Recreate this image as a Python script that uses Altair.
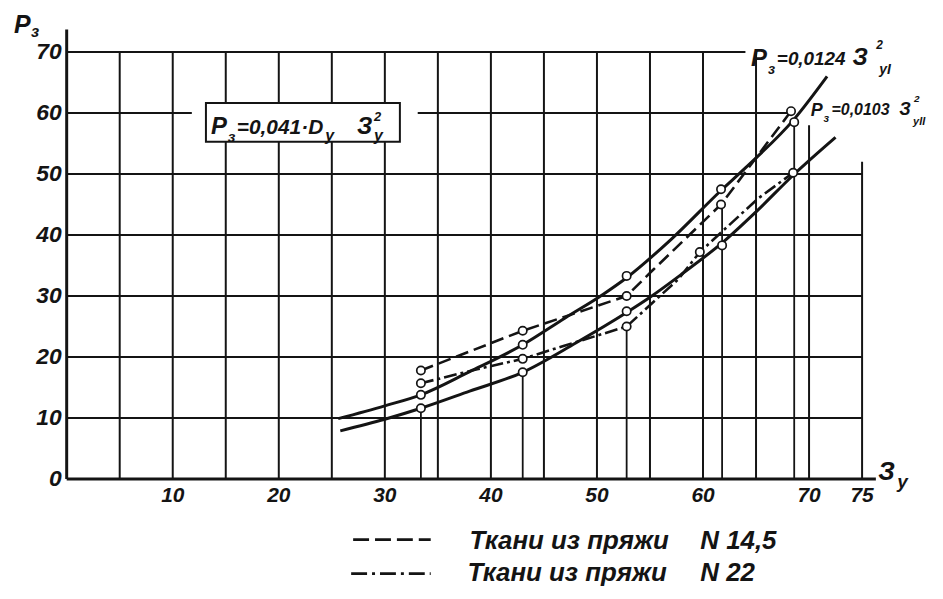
import altair as alt
import pandas as pd

# ---------------- data ----------------
x_grid = [5, 10, 15, 20, 25, 30, 35, 40, 45, 50, 55, 60, 65, 70, 75]
x_grid_top = [70, 70, 70, 70, 70, 70, 70, 70, 70, 70, 70, 70, 70, 58, 52]
y_grid = [10, 20, 30, 40, 50, 60, 60, 70]
y_grid_from = [0, 0, 0, 0, 0, 0, 33.1, 0]
y_grid_to = [75, 75, 75, 75, 75, 11.8, 68, 64]
x_labels = [10, 20, 30, 40, 50, 60, 70, 75]
y_labels = [0, 10, 20, 30, 40, 50, 60, 70]

meas_x = [33.4, 43.0, 52.8, 61.8, 68.6]
meas_top = [11.6, 17.5, 25.0, 45.0, 58.5]

# solid fitted curve I  (P = 0,0124 З²)
curve1_x = [25.6, 30.0, 33.4, 38.0, 43.0, 47.0, 50.6, 52.8, 57.0, 61.7, 64.0, 68.6, 71.7]
curve1_y = [9.9, 12.0, 13.8, 17.6, 22.0, 26.4, 30.3, 33.0, 39.3, 47.3, 51.0, 59.0, 66.0]
# solid fitted curve II (P = 0,0103 З²)
curve2_x = [25.8, 30.0, 33.4, 38.0, 43.0, 48.0, 52.8, 55.0, 58.0, 62.0, 65.0, 68.5, 72.5]
curve2_y = [7.9, 9.8, 11.6, 14.4, 17.5, 22.3, 27.3, 29.8, 33.6, 39.0, 43.8, 49.8, 56.0]
# measured, yarn N 14.5 (dashed)
dash_x = [33.4, 43.0, 52.8, 55.3, 61.7, 68.3]
dash_y = [17.8, 24.3, 30.0, 34.3, 45.0, 60.3]
# measured, yarn N 22 (dash-dot)
dashdot_x = [33.4, 38.7, 43.0, 47.0, 52.8, 57.7, 59.7, 65.2, 68.5]
dashdot_y = [15.7, 18.0, 19.7, 21.9, 25.0, 32.8, 37.2, 46.0, 50.2]
# circles
circ_x = [33.4, 33.4, 33.4, 33.4, 43.0, 43.0, 43.0, 43.0, 52.8, 52.8, 52.8, 52.8,
          61.7, 61.7, 61.8, 59.7, 68.3, 68.6, 68.5]
circ_y = [17.8, 15.7, 13.8, 11.6, 24.3, 22.0, 19.7, 17.5, 33.3, 30.0, 27.5, 25.0,
          47.5, 45.0, 38.3, 37.2, 60.3, 58.5, 50.2]

legend_labels = ["Ткани из пряжи", "Ткани из пряжи"]
legend_nums = ["N 14,5", "N 22"]

# ---------------- styling ----------------
INK = "#141414"
FONT = "Liberation Sans"
WEIGHT = "bold"
OX, OY = 67, 20  # page position of plot origin (8px margin + padding)

xs = alt.Scale(domain=[0, 80], nice=False, zero=False)
ys = alt.Scale(domain=[0, 75], nice=False, zero=False)


def X(f):
    return alt.X(f, type="quantitative", scale=xs, axis=None)


def Y(f):
    return alt.Y(f, type="quantitative", scale=ys, axis=None)


layers = []

# vertical grid
vg = pd.DataFrame({"x": x_grid, "y0": [0] * len(x_grid), "y1": x_grid_top})
layers.append(alt.Chart(vg).mark_rule(color=INK, strokeWidth=2).encode(
    x=X("x"), y=Y("y0"), y2="y1:Q"))
# measurement verticals
mv = pd.DataFrame({"x": meas_x, "y0": [0] * len(meas_x), "y1": meas_top})
layers.append(alt.Chart(mv).mark_rule(color=INK, strokeWidth=1.8).encode(
    x=X("x"), y=Y("y0"), y2="y1:Q"))
# horizontal grid
hg = pd.DataFrame({"y": y_grid, "x0": y_grid_from, "x1": y_grid_to})
layers.append(alt.Chart(hg).mark_rule(color=INK, strokeWidth=2).encode(
    y=Y("y"), x=X("x0"), x2="x1:Q"))
# axes
ax = pd.DataFrame({"x0": [0], "x1": [76.3], "y": [0]})
layers.append(alt.Chart(ax).mark_rule(color=INK, strokeWidth=3).encode(
    y=Y("y"), x=X("x0"), x2="x1:Q"))
ay = pd.DataFrame({"x": [0], "y0": [0], "y1": [73.7]})
layers.append(alt.Chart(ay).mark_rule(color=INK, strokeWidth=3).encode(
    x=X("x"), y=Y("y0"), y2="y1:Q"))

# formula box (white, covers the grid)
layers.append(alt.Chart(pd.DataFrame({"a": [0]})).mark_rect(
    fill="white", stroke=INK, strokeWidth=2).encode(
    x=alt.value(207 - OX), x2=alt.value(402 - OX),
    y=alt.value(102 - OY), y2=alt.value(141 - OY)))

# curves
c1 = pd.DataFrame({"x": curve1_x, "y": curve1_y})
c2 = pd.DataFrame({"x": curve2_x, "y": curve2_y})
layers.append(alt.Chart(c1).mark_line(color=INK, strokeWidth=3, interpolate="monotone").encode(
    x=X("x"), y=Y("y"), order="x:Q"))
layers.append(alt.Chart(c2).mark_line(color=INK, strokeWidth=3, interpolate="monotone").encode(
    x=X("x"), y=Y("y"), order="x:Q"))
d1 = pd.DataFrame({"x": dash_x, "y": dash_y})
d2 = pd.DataFrame({"x": dashdot_x, "y": dashdot_y})
layers.append(alt.Chart(d1).mark_line(color=INK, strokeWidth=2.6, strokeDash=[13, 6]).encode(
    x=X("x"), y=Y("y"), order="x:Q"))
layers.append(alt.Chart(d2).mark_line(color=INK, strokeWidth=2.6, strokeDash=[13, 4, 3, 4]).encode(
    x=X("x"), y=Y("y"), order="x:Q"))

# circles
cc = pd.DataFrame({"x": circ_x, "y": circ_y})
layers.append(alt.Chart(cc).mark_circle(fill="white", stroke=INK, strokeWidth=1.7,
                                        size=70, opacity=1).encode(x=X("x"), y=Y("y")))

# tick labels
xl = pd.DataFrame({"x": x_labels, "t": [str(v) for v in x_labels]})
layers.append(alt.Chart(xl).mark_text(font=FONT, fontStyle="italic", fontWeight=WEIGHT,
                                      fontSize=21, color=INK,
                                      baseline="alphabetic", align="center").encode(
    x=X("x"), y=alt.value(503 - OY), text="t:N"))
yl = pd.DataFrame({"y": y_labels, "t": [str(v) for v in y_labels]})
layers.append(alt.Chart(yl).mark_text(font=FONT, fontStyle="italic", fontWeight=WEIGHT,
                                      fontSize=23, color=INK,
                                      baseline="middle", align="right").encode(
    y=Y("y"), x=alt.value(62 - OX), text="t:N"))


def txt(s, px, py, size, align="left"):
    return alt.Chart(pd.DataFrame({"t": [s]})).mark_text(
        font=FONT, fontStyle="italic", fontWeight=WEIGHT, fontSize=size, color=INK,
        baseline="alphabetic", align=align).encode(
        x=alt.value(px - OX), y=alt.value(py - OY), text="t:N")


# axis titles
layers += [txt("P", 14, 32, 25), txt("з", 31, 36, 16)]
layers += [txt("З", 883, 481, 26), txt("у", 902, 489, 19)]

# formula in the box
layers += [txt("P", 212, 133, 24), txt("з", 229, 141, 15),
           txt("=0,041·D", 238, 133, 21), txt("у", 327, 140, 16),
           txt("З", 359, 133, 24), txt("2", 376, 120, 13), txt("у", 376, 140, 16)]

# curve labels
layers += [txt("P", 755, 65, 24), txt("з", 772, 73, 14),
           txt("=0,0124", 781, 64, 19), txt("З", 857, 64, 24),
           txt("2", 881, 48, 12), txt("уI", 884, 73, 14)]
layers += [txt("P", 815, 115, 18), txt("з", 828, 121, 11),
           txt("=0,0103", 836, 114, 16), txt("З", 904, 114, 18),
           txt("2", 919, 101, 10), txt("уII", 918, 124, 11)]

# legend
layers.append(alt.Chart(pd.DataFrame({"a": [0]})).mark_rule(
    color=INK, strokeWidth=2.8, strokeDash=[16, 6]).encode(
    x=alt.value(355 - OX), x2=alt.value(433 - OX), y=alt.value(541 - OY)))
layers.append(alt.Chart(pd.DataFrame({"a": [0]})).mark_rule(
    color=INK, strokeWidth=2.8, strokeDash=[16, 5, 3, 5]).encode(
    x=alt.value(353 - OX), x2=alt.value(433 - OX), y=alt.value(575 - OY)))
layers += [txt(legend_labels[0], 472, 550, 26), txt(legend_nums[0], 704, 550, 26),
           txt(legend_labels[1], 470, 583, 26), txt(legend_nums[1], 704, 583, 26)]

chart = alt.layer(*layers).properties(
    width=853, height=460,
    autosize=alt.AutoSizeParams(type="none"),
    padding={"left": 59, "top": 12, "right": 20, "bottom": 111},
    background="white",
).configure_view(stroke=None)

chart.save("out.html", embed_options={"renderer": "svg", "actions": False})
